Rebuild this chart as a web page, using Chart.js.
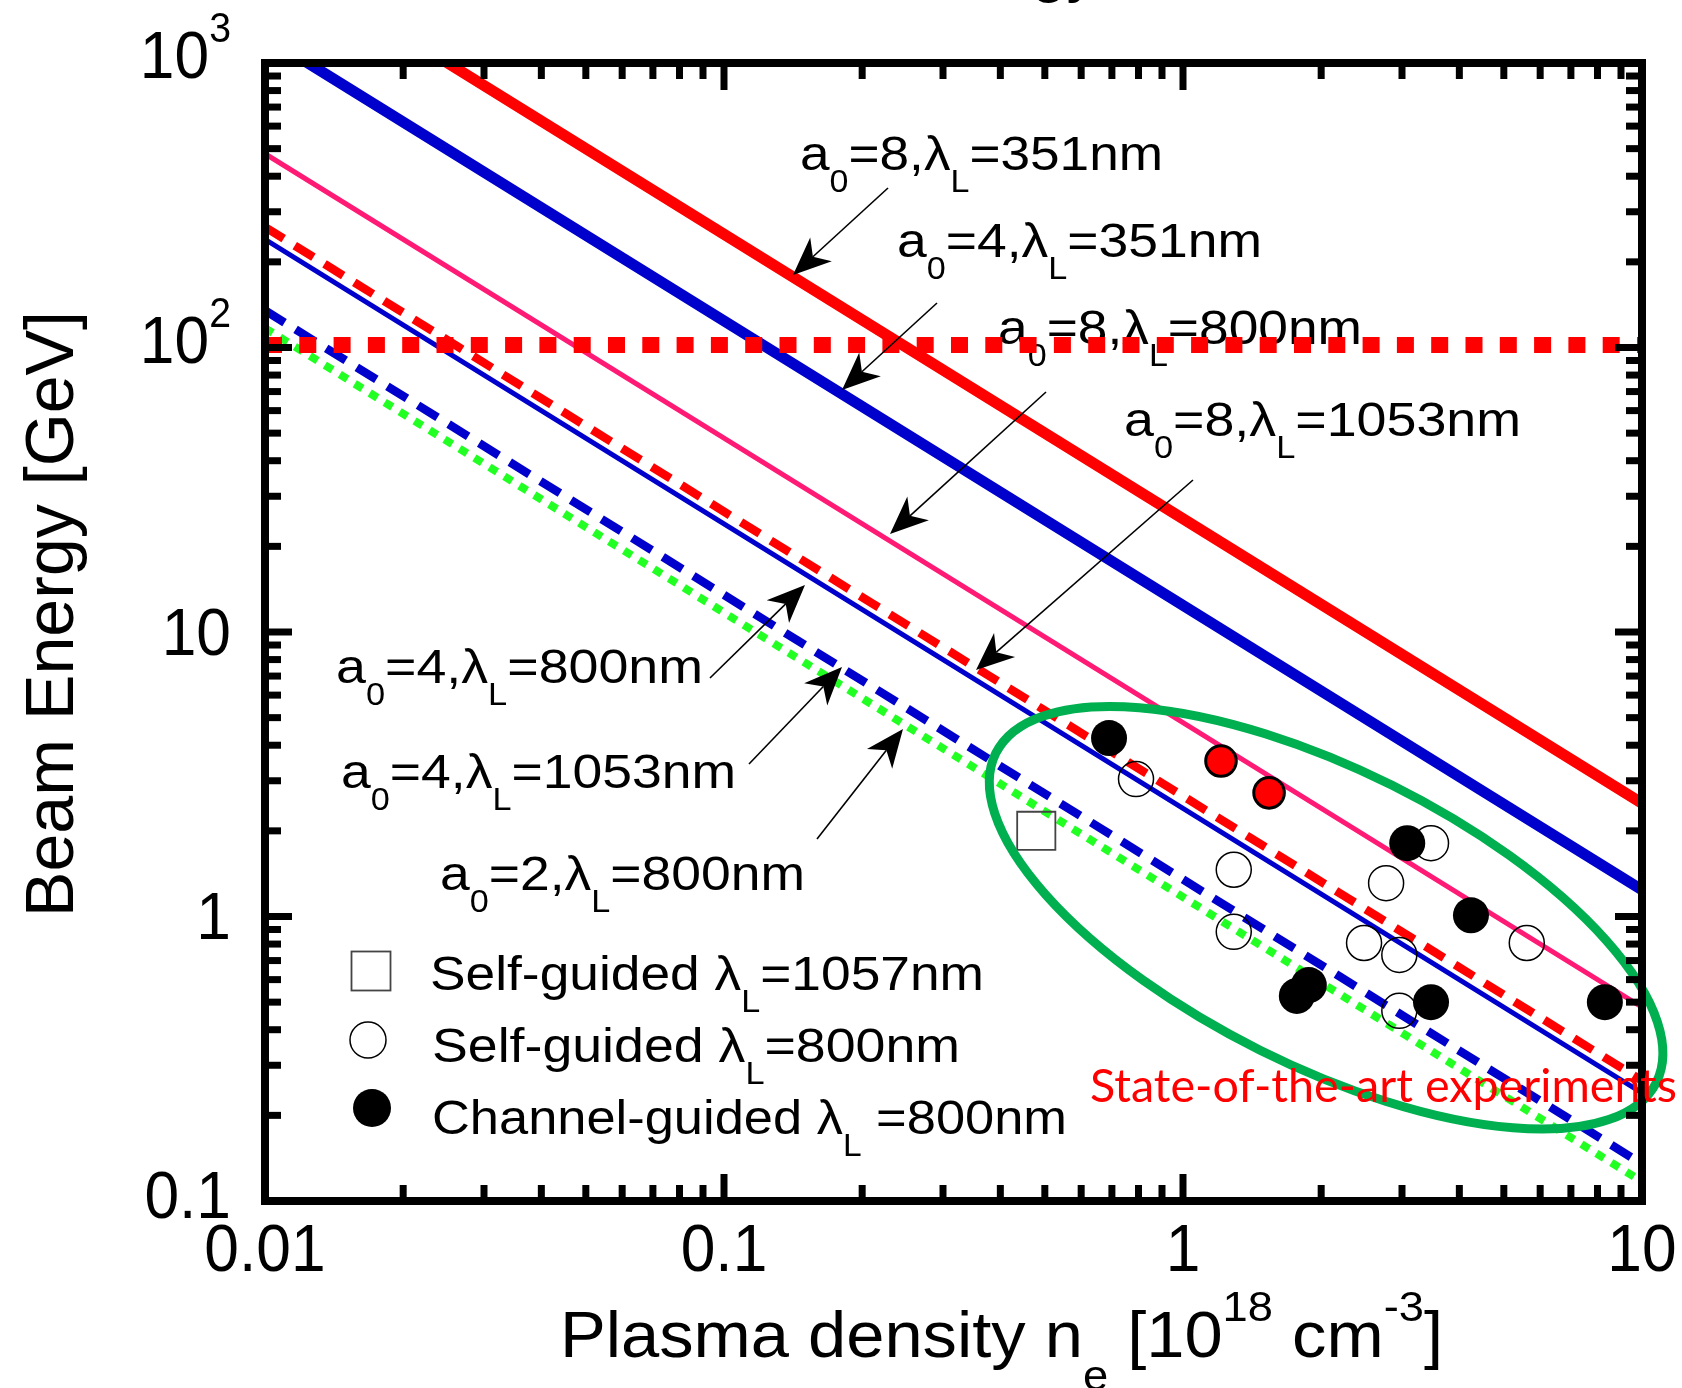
<!DOCTYPE html>
<html><head><meta charset="utf-8">
<script src="https://cdn.jsdelivr.net/npm/chart.js@4/dist/chart.umd.min.js"></script>
<style>html,body{margin:0;padding:0;background:#fff;}canvas{display:block}</style>
</head><body>
<canvas id="c" width="1682" height="1388"></canvas>
<script>
// ---------------- data ----------------
const xTickValues = [0.01, 0.1, 1, 10];
const xTickLabels = ['0.01', '0.1', '1', '10'];
const yTickValues = [1000, 100, 10, 1, 0.1];
const yTickLabels = [['10', '3'], ['10', '2'], ['10', ''], ['1', ''], ['0.1', '']];
const xMinorTicks = [0.02,0.03,0.04,0.05,0.06,0.07,0.08,0.09,0.2,0.3,0.4,0.5,0.6,0.7,0.8,0.9,2,3,4,5,6,7,8,9];
const yMinorTicks = [0.2,0.3,0.4,0.5,0.6,0.7,0.8,0.9,2,3,4,5,6,7,8,9,20,30,40,50,60,70,80,90,200,300,400,500,600,700,800,900];

const lineDensity = [0.01, 0.1, 1, 10];
const a8_351 = [2500, 250, 25, 2.5];
const a4_351 = [1240, 124, 12.4, 1.24];
const a8_800 = [480, 48, 4.8, 0.48];
const a8_1053 = [265, 26.5, 2.65, 0.265];
const a4_800 = [240, 24, 2.4, 0.24];
const a4_1053 = [135, 13.5, 1.35, 0.135];
const a2_800 = [117, 11.7, 1.17, 0.117];
const limitDensity = [0.01, 10];
const limitEnergy = [102, 102];

const channelN = [0.69, 3.08, 4.24, 1.77, 1.88, 3.47, 8.30];
const channelE = [4.24, 1.81, 1.01, 0.526, 0.574, 0.50, 0.50];
const channelRedN = [1.21, 1.54];
const channelRedE = [3.52, 2.72];
const selfN = [0.79, 3.47, 1.29, 2.77, 1.29, 2.48, 2.96, 5.61, 2.96];
const selfE = [3.04, 1.81, 1.46, 1.31, 0.883, 0.807, 0.733, 0.807, 0.466];
const square1057N = [0.479];
const square1057E = [2.0];

// ---------------- helpers ----------------
const FAM = '"Liberation Sans", Arial, sans-serif';
function pts(xs, ys) { return xs.map((x, i) => ({ x: x, y: ys[i] })); }

function drawRich(ctx, segs, x, y, size, o) {
  o = o || {};
  const fam = o.family || FAM;
  const ratio = o.ratio || 0.64;
  const subDy = o.subDy != null ? o.subDy : 0.46;
  const supDy = o.supDy != null ? o.supDy : 0.5;
  let total = 0;
  const widths = segs.map(s => {
    ctx.font = (s[1] === 'n' ? size : size * ratio) + 'px ' + fam;
    const w = ctx.measureText(s[0]).width; total += w; return w;
  });
  const sx = o.width ? o.width / total : (o.sx || 1);
  let start = x;
  if (o.align === 'right') start = x - total * sx;
  else if (o.align === 'center') start = x - total * sx / 2;
  ctx.save();
  ctx.fillStyle = o.color || '#000';
  ctx.textBaseline = 'alphabetic';
  ctx.textAlign = 'left';
  ctx.translate(start, y);
  ctx.scale(sx, 1);
  let cx = 0;
  segs.forEach((s, i) => {
    ctx.font = (s[1] === 'n' ? size : size * ratio) + 'px ' + fam;
    const dy = s[1] === 'sub' ? size * subDy : (s[1] === 'sup' ? -size * supDy : 0);
    ctx.fillText(s[0], cx, dy);
    cx += widths[i];
  });
  ctx.restore();
}

function arrow(ctx, x1, y1, x2, y2) {
  const ang = Math.atan2(y2 - y1, x2 - x1);
  const L = 38, W = 16, N = 11;
  ctx.save();
  ctx.strokeStyle = '#000'; ctx.fillStyle = '#000'; ctx.lineWidth = 1.6;
  ctx.beginPath(); ctx.moveTo(x1, y1);
  ctx.lineTo(x2 - Math.cos(ang) * (L - N), y2 - Math.sin(ang) * (L - N)); ctx.stroke();
  ctx.translate(x2, y2); ctx.rotate(ang);
  ctx.beginPath(); ctx.moveTo(0, 0); ctx.lineTo(-L, -W); ctx.lineTo(-(L - N), 0); ctx.lineTo(-L, W); ctx.closePath(); ctx.fill();
  ctx.restore();
}

function lbl(a, lam) { return [['a', 'n'], ['0', 'sub'], ['=' + a + ',\u03bb', 'n'], ['L', 'sub'], ['=' + lam + 'nm', 'n']]; }

// annotation layout (pixels)
const annotations = [
  { segs: lbl('8', '351'), x: 800, y: 170, w: 363, from: [888, 188], to: [793, 275] },
  { segs: lbl('4', '351'), x: 897, y: 257, w: 365, from: [937, 303], to: [842, 390] },
  { segs: lbl('8', '800'), x: 998, y: 344, w: 364, from: [1046, 392], to: [890, 534] },
  { segs: lbl('8', '1053'), x: 1124, y: 436, w: 397, from: [1193, 480], to: [976, 670] },
  { segs: lbl('4', '800'), x: 336, y: 683, w: 367, from: [710, 678], to: [805, 585] },
  { segs: lbl('4', '1053'), x: 341, y: 788, w: 395, from: [749, 764], to: [842, 667] },
  { segs: lbl('2', '800'), x: 440, y: 890, w: 365, from: [817, 839], to: [903, 729] }
];

const overlay = {
  id: 'overlay',
  beforeDatasetsDraw(chart) {
    const ctx = chart.ctx;
    annotations.forEach(a => drawRich(ctx, a.segs, a.x, a.y, 48, { width: a.w }));
  },
  afterDatasetsDraw(chart) {
    const ctx = chart.ctx;
    const xs = chart.scales.x, ys = chart.scales.y;
    const ca = chart.chartArea;
    // clipped title remnant at the very top
    drawRich(ctx, [['gy', 'n']], 1031, -10, 64, {});
    // ellipse
    ctx.save();
    ctx.strokeStyle = '#00B050'; ctx.lineWidth = 9;
    ctx.beginPath();
    ctx.ellipse(xs.getPixelForValue(2.05), ys.getPixelForValue(0.99), 369, 148, 26.5 * Math.PI / 180, 0, Math.PI * 2);
    ctx.stroke();
    ctx.restore();
    // arrows
    annotations.forEach(a => arrow(ctx, a.from[0], a.from[1], a.to[0], a.to[1]));
    // frame
    ctx.save();
    ctx.strokeStyle = '#000'; ctx.lineWidth = 8;
    ctx.strokeRect(ca.left, ca.top, ca.right - ca.left, ca.bottom - ca.top);
    // ticks
    ctx.lineWidth = 7;
    function tickX(v, len) {
      const p = xs.getPixelForValue(v);
      ctx.beginPath(); ctx.moveTo(p, ca.bottom); ctx.lineTo(p, ca.bottom - len); ctx.stroke();
      ctx.beginPath(); ctx.moveTo(p, ca.top); ctx.lineTo(p, ca.top + len); ctx.stroke();
    }
    function tickY(v, len) {
      const p = ys.getPixelForValue(v);
      ctx.beginPath(); ctx.moveTo(ca.left, p); ctx.lineTo(ca.left + len, p); ctx.stroke();
      ctx.beginPath(); ctx.moveTo(ca.right, p); ctx.lineTo(ca.right - len, p); ctx.stroke();
    }
    xMinorTicks.forEach(v => tickX(v, 16));
    xTickValues.forEach(v => tickX(v, 27));
    yMinorTicks.forEach(v => tickY(v, 16));
    yTickValues.forEach(v => tickY(v, 27));
    ctx.restore();
    // tick labels
    xTickValues.forEach((v, i) => {
      drawRich(ctx, [[xTickLabels[i], 'n']], xs.getPixelForValue(v), ca.bottom + 70, 67, { align: 'center', sx: 0.93 });
    });
    const yDy = [15, 15, 23, 22, 17];
    yTickValues.forEach((v, i) => {
      const segs = [[yTickLabels[i][0], 'n']];
      if (yTickLabels[i][1]) segs.push([yTickLabels[i][1], 'sup']);
      drawRich(ctx, segs, 231, ys.getPixelForValue(v) + yDy[i], 67, { align: 'right', ratio: 0.63, supDy: 0.53, sx: 0.93 });
    });
    // axis titles
    drawRich(ctx, [['Plasma density n', 'n'], ['e', 'sub'], [' [10', 'n'], ['18', 'sup'], [' cm', 'n'], ['-3', 'sup'], [']', 'n']],
      560, 1357, 65, { width: 883, ratio: 0.66, subDy: 0.5, supDy: 0.55 });
    ctx.save();
    ctx.translate(73, 614); ctx.rotate(-Math.PI / 2);
    drawRich(ctx, [['Beam Energy [GeV]', 'n']], 0, 0, 68, { align: 'center', width: 606 });
    ctx.restore();
    // legend
    ctx.save();
    ctx.strokeStyle = '#444'; ctx.lineWidth = 1.8;
    ctx.strokeRect(371 - 19.5, 971 - 19.5, 39, 39);
    ctx.strokeStyle = '#000'; ctx.lineWidth = 1.5;
    ctx.beginPath(); ctx.arc(368, 1040, 18, 0, Math.PI * 2); ctx.stroke();
    ctx.fillStyle = '#000';
    ctx.beginPath(); ctx.arc(372, 1108, 19, 0, Math.PI * 2); ctx.fill();
    ctx.restore();
    drawRich(ctx, [['Self-guided \u03bb', 'n'], ['L', 'sub'], ['=1057nm', 'n']], 430, 990, 48, { width: 554 });
    drawRich(ctx, [['Self-guided \u03bb', 'n'], ['L', 'sub'], ['=800nm', 'n']], 432, 1062, 48, { width: 528 });
    drawRich(ctx, [['Channel-guided \u03bb', 'n'], ['L', 'sub'], [' =800nm', 'n']], 432, 1134, 48, { width: 635 });
    // red label
    drawRich(ctx, [['State-of-the-art experiments', 'n']], 1090, 1102, 46, { width: 587, family: 'Lato, "Open Sans", sans-serif', color: '#FF0000' });
  }
};

const lineDs = (label, ys, color, width, dash) => ({
  type: 'line', label: label, data: pts(lineDensity, ys), borderColor: color, borderWidth: width,
  borderDash: dash || [], borderCapStyle: 'butt', pointRadius: 0, tension: 0, fill: false
});

new Chart(document.getElementById('c'), {
  type: 'line',
  data: {
    datasets: [
      { type: 'scatter', label: 'Channel-guided 800nm', data: pts(channelN, channelE), pointStyle: 'circle', pointRadius: 18,
        backgroundColor: '#000', borderColor: '#000', borderWidth: 0 },
      { type: 'scatter', label: 'Channel-guided 800nm (red)', data: pts(channelRedN, channelRedE), pointStyle: 'circle', pointRadius: 15.3,
        backgroundColor: '#FF0000', borderColor: '#000', borderWidth: 3 },
      { type: 'scatter', label: 'Self-guided 800nm', data: pts(selfN, selfE), pointStyle: 'circle', pointRadius: 17.5,
        backgroundColor: 'rgba(0,0,0,0)', borderColor: '#000', borderWidth: 1.5 },
      { type: 'scatter', label: 'Self-guided 1057nm', data: pts(square1057N, square1057E), pointStyle: 'rect', pointRadius: 27,
        backgroundColor: 'rgba(0,0,0,0)', borderColor: '#444', borderWidth: 1.8 },
      { type: 'line', label: '100 GeV', data: pts(limitDensity, limitEnergy), borderColor: '#FF0000', borderWidth: 16,
        borderDash: [17, 17.3], borderCapStyle: 'butt', pointRadius: 0, fill: false },
      lineDs('a0=2, 800nm', a2_800, '#22FF22', 8, [9, 8.6]),
      lineDs('a0=4, 1053nm', a4_1053, '#0000CD', 8.5, [23, 13]),
      lineDs('a0=4, 800nm', a4_800, '#0000CD', 5),
      lineDs('a0=8, 1053nm', a8_1053, '#FF0000', 8.5, [22, 13]),
      lineDs('a0=8, 800nm', a8_800, '#FF1A75', 5),
      lineDs('a0=4, 351nm', a4_351, '#0000CD', 11),
      lineDs('a0=8, 351nm', a8_351, '#FF0000', 11)
    ]
  },
  options: {
    responsive: false, animation: false, devicePixelRatio: 1,
    layout: { padding: { left: 265, top: 63, right: 40, bottom: 187 } },
    plugins: { legend: { display: false }, tooltip: { enabled: false } },
    scales: {
      x: { type: 'logarithmic', min: 0.01, max: 10, display: false },
      y: { type: 'logarithmic', min: 0.1, max: 1000, display: false }
    },
    elements: { line: { tension: 0 } }
  },
  plugins: [overlay]
});
</script>
</body></html>
